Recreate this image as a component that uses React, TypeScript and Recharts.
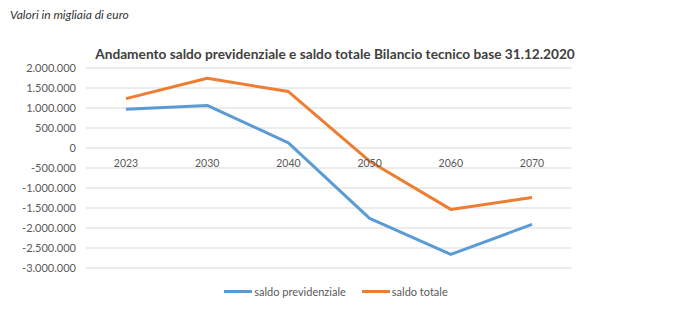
import React from "react";
import { LineChart, Line, XAxis, YAxis, CartesianGrid, Legend } from "recharts";

const years = ["2023", "2030", "2040", "2050", "2060", "2070"];
const saldoPrevidenziale = [970000, 1065000, 130000, -1760000, -2660000, -1910000];
const saldoTotale = [1235000, 1745000, 1410000, -330000, -1535000, -1235000];
const yTicks = [2000000, 1500000, 1000000, 500000, 0, -500000, -1000000, -1500000, -2000000, -2500000, -3000000];

const data = years.map((year, i) => ({
  year,
  previdenziale: saldoPrevidenziale[i],
  totale: saldoTotale[i],
}));

const W = 680;
const H = 333;
const margin = { top: 68, right: 108, left: 8, bottom: 45 };
const X_AXIS_H = 20;
const Y_MIN = -3000000;
const Y_MAX = 2000000;
const plotHeight = H - margin.top - margin.bottom - X_AXIS_H;
const zeroY = margin.top + (plotHeight * (Y_MAX - 0)) / (Y_MAX - Y_MIN);

const BLUE = "#5B9BD5";
const ORANGE = "#ED7D31";
const FONT = "Lato, 'Noto Sans', sans-serif";

const fmt = (v: number) => {
  const s = Math.abs(v).toString().replace(/\B(?=(\d{3})+(?!\d))/g, ".");
  return v < 0 ? "-" + s : s;
};

// year labels sit just under the zero line, as in the Excel original
const YearTick = (props: any) => {
  const { x, payload } = props;
  return (
    <text x={x} y={zeroY + 16} textAnchor="middle" dominantBaseline="middle" fontSize={10.5} fill="#595959" fontFamily={FONT}>
      {payload.value}
    </text>
  );
};

const LegendContent = () => (
  <div style={{ display: "flex", justifyContent: "center", fontFamily: FONT, fontSize: 11, color: "#595959" }}>
    {[
      { label: "saldo previdenziale", color: BLUE },
      { label: "saldo totale", color: ORANGE },
    ].map((it) => (
      <div key={it.label} style={{ display: "flex", alignItems: "center", margin: "0 8px" }}>
        <span style={{ display: "inline-block", width: 28, height: 3, background: it.color, marginRight: 2 }} />
        <span>{it.label}</span>
      </div>
    ))}
  </div>
);

export default function App() {
  return (
    <div style={{ position: "absolute", left: 0, top: 0, width: W, height: H, background: "#fff" }}>
      <div style={{ position: "absolute", left: 10, top: 7, fontFamily: FONT, fontStyle: "italic", fontSize: 12, color: "#333" }}>
        Valori in migliaia di euro
      </div>
      <div
        style={{
          position: "absolute",
          left: 0,
          width: W - 10,
          top: 45,
          textAlign: "center",
          fontFamily: FONT,
          fontWeight: 700,
          fontSize: 13.7,
          color: "#404040",
        }}
      >
        Andamento saldo previdenziale e saldo totale Bilancio tecnico base 31.12.2020
      </div>
      <LineChart width={W} height={H} data={data} margin={margin}>
        <CartesianGrid vertical={false} stroke="#d9d9d9" />
        <XAxis
          dataKey="year"
          height={X_AXIS_H}
          axisLine={false}
          tickLine={false}
          padding={{ left: 40, right: 40 }}
          tick={<YearTick />}
        />
        <YAxis
          width={78}
          domain={[Y_MIN, Y_MAX]}
          ticks={yTicks}
          interval={0}
          axisLine={false}
          tickLine={false}
          tickMargin={4}
          tickFormatter={fmt}
          tick={{ fontSize: 11, fill: "#595959", fontFamily: FONT }}
        />
        <Legend
          layout="horizontal"
          verticalAlign="middle"
          align="center"
          wrapperStyle={{ top: 285, left: 0, width: W - 8 }}
          content={<LegendContent />}
        />
        <Line
          type="linear"
          dataKey="previdenziale"
          name="saldo previdenziale"
          stroke={BLUE}
          strokeWidth={3}
          dot={false}
          strokeLinejoin="round"
          isAnimationActive={false}
        />
        <Line
          type="linear"
          dataKey="totale"
          name="saldo totale"
          stroke={ORANGE}
          strokeWidth={3}
          dot={false}
          strokeLinejoin="round"
          isAnimationActive={false}
        />
      </LineChart>
    </div>
  );
}
